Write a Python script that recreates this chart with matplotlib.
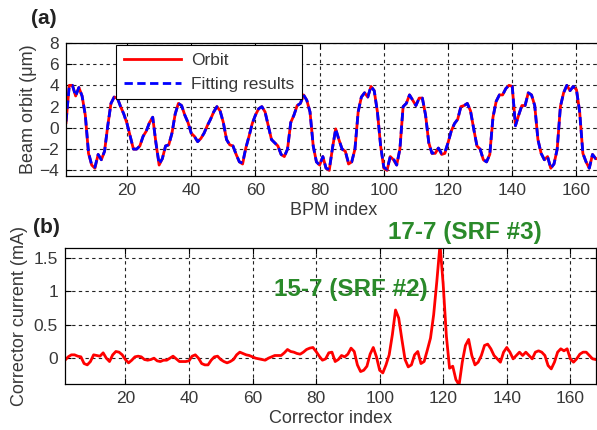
import numpy as np
import matplotlib
matplotlib.use("Agg")
import matplotlib.pyplot as plt

plt.rcParams['font.family'] = ['Liberation Sans', 'DejaVu Sans']

# (a) beam orbit at each BPM
bpm_index = list(range(1, 168))
orbit_um = [0.5, 4.0, 4.0, 3.0, 3.8, 3.0, 1.2, -2.4, -3.5, -3.8,
            -2.5, -3.0, -2.2, 0.2, 2.3, 2.9, 2.8, 2.0, 1.3, 0.4,
            -0.8, -2.0, -2.0, -1.7, -0.8, -0.3, 0.5, 1.0, -1.4, -3.5,
            -2.9, -1.7, -1.6, -0.5, 1.3, 2.3, 2.1, 1.2, 0.5, -0.5,
            -0.8, -1.3, -1.0, -0.5, 0.2, 0.8, 1.5, 2.0, 1.6, 0.5,
            -1.1, -1.6, -1.7, -2.5, -3.2, -3.4, -1.9, -0.8, 0.4, 1.2,
            1.8, 2.0, 1.5, 0.2, -1.1, -1.4, -1.7, -2.5, -2.7, -2.0,
            0.5, 1.2, 2.1, 2.3, 3.1, 2.6, 1.5, -1.7, -3.2, -3.5,
            -2.7, -3.8, -4.0, -1.9, -0.1, -1.1, -2.0, -2.2, -3.4, -3.2,
            -2.0, 1.5, 2.9, 3.3, 2.9, 3.9, 3.5, 1.5, -1.7, -3.8,
            -4.0, -2.7, -3.0, -3.5, -2.0, 2.0, 2.3, 3.1, 2.6, 2.1,
            2.8, 2.8, 1.2, -1.4, -2.4, -2.4, -1.9, -2.5, -2.4, -1.4,
            -0.3, 0.4, 0.8, 2.0, 2.1, 2.3, 1.6, -0.1, -1.7, -2.0,
            -3.0, -3.2, -2.5, 1.0, 2.5, 3.1, 3.1, 3.7, 4.0, 3.9,
            0.2, 1.2, 2.1, 2.1, 3.3, 3.1, 2.1, -1.1, -2.4, -3.0,
            -2.7, -3.8, -3.4, -2.0, 2.0, 3.3, 4.0, 3.5, 3.9, 3.6,
            1.5, -2.4, -3.2, -3.8, -2.5, -2.9, -2.9]
fit_um = [0.6, 3.9, 4.0, 3.0, 3.8, 3.0, 1.2, -2.3, -3.5, -3.7,
          -2.5, -3.0, -2.2, 0.2, 2.3, 2.9, 2.8, 2.0, 1.3, 0.4,
          -0.8, -2.0, -2.0, -1.7, -0.8, -0.3, 0.5, 1.0, -1.4, -3.4,
          -2.9, -1.7, -1.6, -0.5, 1.3, 2.3, 2.1, 1.2, 0.5, -0.5,
          -0.8, -1.3, -1.0, -0.5, 0.2, 0.8, 1.5, 2.0, 1.6, 0.5,
          -1.1, -1.6, -1.7, -2.5, -3.2, -3.3, -1.9, -0.8, 0.4, 1.2,
          1.8, 2.0, 1.5, 0.2, -1.1, -1.4, -1.7, -2.5, -2.7, -2.0,
          0.5, 1.2, 2.1, 2.3, 3.1, 2.6, 1.5, -1.7, -3.2, -3.5,
          -2.7, -3.8, -3.9, -1.9, -0.1, -1.1, -2.0, -2.2, -3.3, -3.2,
          -2.0, 1.5, 2.9, 3.3, 2.9, 3.9, 3.5, 1.5, -1.7, -3.7,
          -3.9, -2.7, -2.9, -3.5, -2.0, 2.0, 2.3, 3.1, 2.6, 2.1,
          2.8, 2.8, 1.2, -1.4, -2.4, -2.3, -1.9, -2.4, -2.3, -1.4,
          -0.3, 0.4, 0.8, 2.0, 2.1, 2.3, 1.6, -0.1, -1.7, -2.0,
          -3.0, -3.2, -2.5, 1.0, 2.5, 3.1, 3.1, 3.7, 4.0, 3.9,
          0.2, 1.2, 2.1, 2.1, 3.3, 3.1, 2.1, -1.1, -2.4, -3.0,
          -2.7, -3.8, -3.4, -2.0, 2.0, 3.3, 4.0, 3.5, 3.9, 3.6,
          1.5, -2.4, -3.2, -3.8, -2.5, -2.9, -2.9]

# (b) corrector currents
corr_index = list(range(1, 169))
current_mA = [-0.03, 0.02, 0.05, 0.05, 0.03, 0.02, -0.08, -0.1, -0.05, 0.05,
              0.04, 0.03, 0.08, 0.0, -0.05, 0.05, 0.1, 0.09, 0.05, -0.02,
              -0.07, -0.03, 0.02, 0.03, 0.02, -0.02, -0.03, -0.02, 0.0, -0.04,
              -0.05, -0.03, -0.03, 0.0, 0.03, -0.01, -0.05, -0.05, -0.05, -0.04,
              0.03, 0.05, 0.0, -0.08, -0.1, -0.1, -0.03, 0.02, 0.03, -0.02,
              -0.05, -0.07, -0.05, -0.02, 0.05, 0.09, 0.07, 0.05, 0.04, 0.02,
              0.0, -0.01, -0.02, -0.03, 0.0, 0.02, 0.04, 0.04, 0.04, 0.08,
              0.13, 0.1, 0.09, 0.07, 0.06, 0.09, 0.13, 0.15, 0.16, 0.1,
              0.03, -0.03, -0.01, 0.08, 0.09, -0.05, -0.02, 0.04, 0.02, 0.06,
              0.15, 0.1, -0.1, -0.2, -0.18, -0.12, 0.06, 0.16, 0.02, -0.18,
              -0.22, -0.1, 0.05, 0.35, 0.72, 0.6, 0.28, -0.02, -0.13, -0.1,
              0.05, 0.1, -0.08, -0.05, 0.12, 0.3, 0.65, 1.15, 1.7, 1.1,
              0.33, -0.15, -0.12, -0.32, -0.4, -0.06, 0.19, 0.28, 0.04, -0.1,
              -0.06, 0.04, 0.19, 0.21, 0.14, 0.04, -0.01, -0.06, 0.09, 0.16,
              0.09, -0.01, 0.04, 0.09, 0.04, 0.09, 0.04, -0.01, 0.09, 0.11,
              0.09, 0.04, -0.11, -0.16, -0.06, 0.09, 0.14, 0.11, 0.14, -0.01,
              -0.06, -0.01, 0.06, 0.09, 0.09, 0.04, -0.01, -0.02]

txt = '#383838'
green = '#2a8a2a'

fig = plt.figure(figsize=(5.97, 4.30), dpi=100)
ax1 = fig.add_axes([0.1106, 0.5914, 0.898, 0.309])
ax2 = fig.add_axes([0.1089, 0.1063, 0.889, 0.316])

ax1.plot(bpm_index, orbit_um, color='#ff0000', lw=2.0, label='Orbit')
ax1.plot(bpm_index, fit_um, color='#0000ff', lw=2.0, ls=(0, (3, 1.6)), label='Fitting results')
ax1.set_xlim(1, 168)
ax1.set_ylim(-4.5, 8)
ax1.set_yticks([-4, -2, 0, 2, 4, 6, 8])
ax1.set_xticks([20, 40, 60, 80, 100, 120, 140, 160])
ax1.set_xlabel('BPM index', fontsize=13, color=txt, labelpad=3)
ax1.set_ylabel('Beam orbit (μm)', fontsize=13, color=txt, labelpad=2)
leg = ax1.legend(loc='upper left', bbox_to_anchor=(0.093, 0.985), borderaxespad=0,
                 fancybox=False, edgecolor='k', fontsize=12.5, handlelength=3.3,
                 borderpad=0.45, labelspacing=0.5, handletextpad=0.6, framealpha=1)
leg.get_frame().set_linewidth(0.8)
for t in leg.get_texts():
    t.set_color(txt)

ax2.plot(corr_index, current_mA, color='#ff0000', lw=2.0)
ax2.set_xlim(1, 168)
ax2.set_ylim(-0.39, 1.64)
ax2.set_yticks([0, 0.5, 1, 1.5])
ax2.set_yticklabels(['0', '0.5', '1', '1.5'])
ax2.set_xticks([20, 40, 60, 80, 100, 120, 140, 160])
ax2.set_xlabel('Corrector index', fontsize=13, color=txt, labelpad=3)
ax2.set_ylabel('Corrector current (mA)', fontsize=13, color=txt, labelpad=4)
ax2.text(90.8, 1.03, '15-7 (SRF #2)', color=green, fontsize=17.5, fontweight='bold',
         ha='center', va='center')
ax2.text(126.9, 1.885, '17-7 (SRF #3)', color=green, fontsize=17.5, fontweight='bold',
         ha='center', va='center', clip_on=False)

for ax in (ax1, ax2):
    ax.grid(True, color='#222222', ls=(0, (3, 3)), lw=0.8)
    ax.tick_params(direction='in', top=True, right=True, labelsize=12.5,
                   labelcolor=txt, length=4, pad=5)
    for s in ax.spines.values():
        s.set_linewidth(0.9)

fig.text(44 / 597, 1 - 18 / 430, '(a)', fontsize=15, fontweight='bold', color='#222222',
         ha='center', va='center')
fig.text(46 / 597, 1 - 228 / 430, '(b)', fontsize=15, fontweight='bold', color='#222222',
         ha='center', va='center')

fig.savefig('out.png', dpi=100)
